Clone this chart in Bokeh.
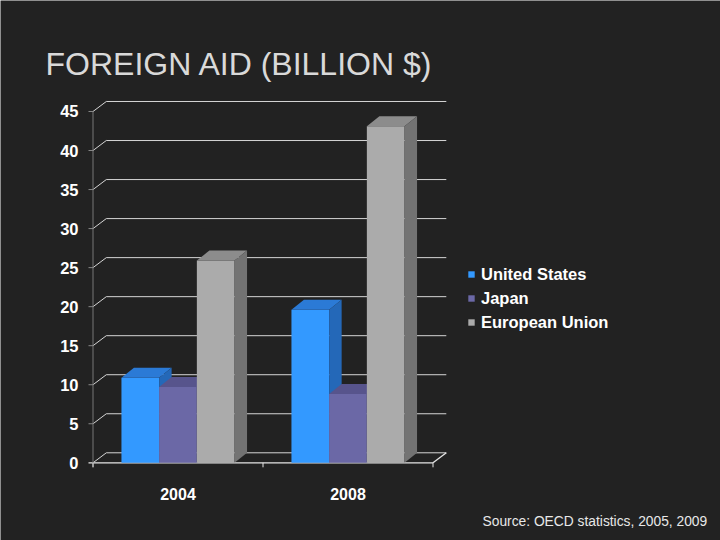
from bokeh.plotting import figure
from bokeh.models import Range1d, Label, Legend, LegendItem
from bokeh.core.properties import value
from bokeh.embed import file_html
from bokeh.resources import INLINE

# ---- data ----
years = ["2004", "2008"]
series = ["United States", "Japan", "European Union"]
us = [10.9, 19.6]
japan = [9.7, 8.8]
eu = [25.9, 43.1]
y_ticks = [0, 5, 10, 15, 20, 25, 30, 35, 40, 45]
title_text = "FOREIGN AID (BILLION $)"
source_text = "Source: OECD statistics, 2005, 2009"

# ---- styling / geometry ----
W, H = 720, 540
SX, SY = W / 720.0, H / 540.0
SF = (SX + SY) / 2
BG = "#222222"
FONT = "Liberation Sans"
PXX = 170.0 * SX      # px per category unit
PXY = 7.807 * SY      # px per value unit
X_ORIGIN = 177.5 * SX  # px of category 0
Y_ZERO = 462.3 * SY    # px (from top) of value 0
bar_w = 37.7 * SX / PXX
bdx, bdy = 12.5 * SX / PXX, 10.0 * SY / PXY   # bar depth
fdx, fdy = 13.3 * SX / PXX, 10.0 * SY / PXY   # floor/wall depth
tkx, tky = 4.5 * SX / PXX, 4.5 * SY / PXY

def fs(px):
    return "%.1fpx" % (px * SF)

front_cols = ["#3399ff", "#6b68a6", "#ababab"]
top_cols = ["#2b7ad6", "#57548c", "#8c8c8c"]
side_cols = ["#2468b8", "#4c4a7c", "#737373"]

x_lo = -X_ORIGIN / PXX
x_hi = (W - X_ORIGIN) / PXX
y_lo = -(H - Y_ZERO) / PXY
y_hi = Y_ZERO / PXY

p = figure(width=W, height=H, output_backend="svg", toolbar_location=None,
           x_range=Range1d(x_lo, x_hi), y_range=Range1d(y_lo, y_hi),
           min_border=0, x_axis_location=None, y_axis_location=None)
p.grid.visible = False
p.outline_line_color = None
p.background_fill_color = BG
p.border_fill_color = BG

ax_left, ax_right = -0.5, len(years) - 0.5
GRID = "#d6d6d6"

# back-wall gridlines with slants to the front axis
gx, gy = [], []
for t in y_ticks:
    gx.append([ax_left + fdx, ax_right + fdx]); gy.append([t + fdy, t + fdy])
    gx.append([ax_left, ax_left + fdx]); gy.append([t, t + fdy])
p.multi_line(gx, gy, line_color=GRID, line_width=1)

# floor right slant and front line
p.multi_line([[ax_right, ax_right + fdx], [ax_left - tkx, ax_right]],
             [[0, fdy], [0, 0]], line_color="#e6e6e6", line_width=1.3)

# front vertical axis and tick marks
p.line([ax_left, ax_left], [-tky, max(y_ticks)], line_color="#777777", line_width=1)
p.multi_line([[ax_left - tkx, ax_left] for t in y_ticks[1:]],
             [[t, t] for t in y_ticks[1:]], line_color="#888888", line_width=1)
# category ticks
xt = [ax_left + i for i in range(len(years) + 1)]
p.multi_line([[x, x] for x in xt], [[0, -tky] for x in xt],
             line_color="#e6e6e6", line_width=1)

# bars
vals = [us, japan, eu]
fronts = []
for si, v in enumerate(vals):
    off = (si - 1) * bar_w
    lefts = [g + off - bar_w / 2 for g in range(len(years))]
    rights = [l + bar_w for l in lefts]
    r = p.quad(left=lefts, right=rights, bottom=[0] * len(v), top=v,
               fill_color=front_cols[si], line_color=None)
    fronts.append(r)
    txs = [[l, rr, rr + bdx, l + bdx] for l, rr in zip(lefts, rights)]
    tys = [[h, h, h + bdy, h + bdy] for h in v]
    p.patches(txs, tys, fill_color=top_cols[si], line_color=None)
    sxs = [[rr, rr, rr + bdx, rr + bdx] for rr in rights]
    sys_ = [[0, h, h + bdy, bdy] for h in v]
    p.patches(sxs, sys_, fill_color=side_cols[si], line_color=None)

# y tick labels
p.text(x=[ax_left - 14.5 * SX / PXX] * len(y_ticks), y=y_ticks, text=[str(t) for t in y_ticks],
       text_align="right", text_baseline="middle", text_font=value(FONT),
       text_font_style="bold", text_font_size=fs(16.5), text_color="#ffffff")
# category labels
p.text(x=list(range(len(years))), y=[-31 * SY / PXY] * len(years), text=years,
       text_align="center", text_baseline="alphabetic", text_font=value(FONT),
       text_font_style="bold", text_font_size=fs(16), text_color="#ffffff")

# legend
legend = Legend(items=[LegendItem(label=s, renderers=[r]) for s, r in zip(series, fronts)],
                location=(467 * SX, 206 * SY), orientation="vertical",
                glyph_width=8, glyph_height=8, label_standoff=6, spacing=0,
                label_height=int(round(24 * SY)), padding=0, margin=0,
                background_fill_alpha=0, border_line_alpha=0,
                label_text_font=FONT, label_text_font_style="bold",
                label_text_font_size=fs(16.5), label_text_color="#ffffff")
p.add_layout(legend)

# title and source
p.add_layout(Label(x=45 * SX, y=(540 - 63) * SY, x_units="screen", y_units="screen",
                   text=title_text, text_font=FONT, text_font_size=fs(32),
                   text_color="#d9d9d9", text_baseline="alphabetic"))
p.add_layout(Label(x=482 * SX, y=(540 - 521) * SY, x_units="screen", y_units="screen",
                   text=source_text, text_font=FONT, text_font_size=fs(13.8),
                   text_color="#e8e8e8", text_baseline="alphabetic"))

open("out.html", "w").write(file_html(p, INLINE))
